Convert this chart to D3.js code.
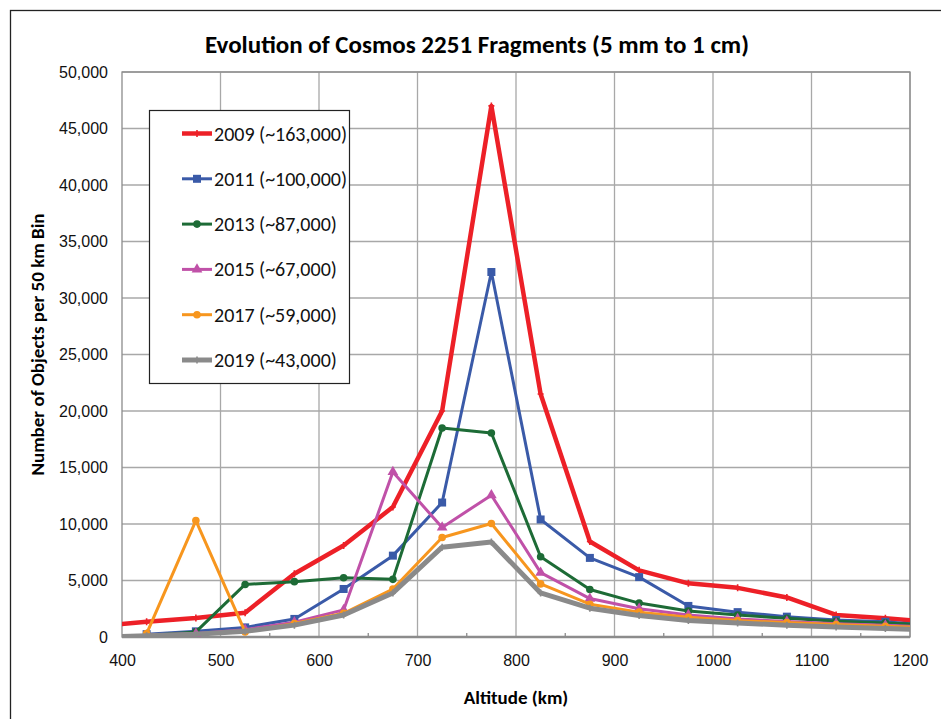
<!DOCTYPE html>
<html>
<head>
<meta charset="utf-8">
<script src="https://cdnjs.cloudflare.com/ajax/libs/d3/7.8.5/d3.min.js"></script>
<style>
  body { margin: 0; background: #fff; }
  svg { font-family: Carlito, "Liberation Sans Narrow", "Liberation Sans", sans-serif; }
</style>
</head>
<body>
<div id="chart"></div>
<script>
// bin centres (km); 375 and 1225 only show as the line running off the plot edge
const altitudes = [375,425,475,525,575,625,675,725,775,825,875,925,975,1025,1075,1125,1175,1225];
const y2009 = [950,1350,1680,2150,5600,8100,11500,20000,47000,21500,8450,5900,4750,4350,3500,1950,1650,1300];
const y2011 = [null,250,500,850,1600,4250,7200,11900,32300,10400,7000,5300,2750,2200,1800,1500,1350,1000];
const y2013 = [null,100,450,4650,4900,5250,5100,18500,18050,7100,4200,3000,2300,1950,1650,1400,1250,1050];
const y2015 = [null,150,300,650,1300,2400,14600,9700,12550,5700,3400,2500,1950,1600,1380,1180,1030,880];
const y2017 = [null,300,10300,450,1200,2100,4250,8800,10050,4700,2900,2200,1750,1450,1280,1100,950,800];
const y2019 = [0,100,250,500,1050,1950,3900,7950,8400,3900,2550,1900,1470,1230,1050,880,750,620];

const seriesNames = ["2009 (~163,000)","2011 (~100,000)","2013 (~87,000)","2015 (~67,000)","2017 (~59,000)","2019 (~43,000)"];
const seriesValues = [y2009,y2011,y2013,y2015,y2017,y2019];
const colors = ["#ed2027","#3a5aa8","#1d6b36","#c051a8","#f7961e","#8a8a8a"];
const widths = [4.5,3,3,3,3,5];
const markers = ["plus","square","circle","triangle","circle","plus"];

const xTicks = [400,500,600,700,800,900,1000,1100,1200];
const yTicks = d3.range(0, 50001, 5000);

const W = 941, H = 719;
const m = {left: 122, right: 910, top: 72, bottom: 637};

const svg = d3.select("#chart").append("svg")
  .attr("width", W).attr("height", H);

// outer chart frame (only top/left edges fall inside the window)
svg.append("rect")
  .attr("x", 10.5).attr("y", 10.5).attr("width", 1000).attr("height", 1000)
  .attr("fill", "none").attr("stroke", "#222").attr("stroke-width", 1.3);

const x = d3.scaleLinear().domain([400,1200]).range([m.left, m.right]);
const y = d3.scaleLinear().domain([0,50000]).range([m.bottom, m.top]);

// grid
svg.append("g").selectAll("line").data(yTicks.slice(1))
  .join("line")
  .attr("x1", m.left).attr("x2", m.right)
  .attr("y1", d => y(d)).attr("y2", d => y(d))
  .attr("stroke", "#a8a8a8").attr("stroke-width", 1.3);
svg.append("g").selectAll("line").data(xTicks.slice(1))
  .join("line")
  .attr("x1", d => x(d)).attr("x2", d => x(d))
  .attr("y1", m.top).attr("y2", m.bottom)
  .attr("stroke", "#a8a8a8").attr("stroke-width", 1.3);

// plot border
svg.append("rect")
  .attr("x", m.left).attr("y", m.top)
  .attr("width", m.right - m.left).attr("height", m.bottom - m.top)
  .attr("fill", "none").attr("stroke", "#8c8c8c").attr("stroke-width", 1.3);

// minor ticks on x axis
svg.append("g").selectAll("line").data(d3.range(450,1200,100))
  .join("line")
  .attr("x1", d => x(d)).attr("x2", d => x(d))
  .attr("y1", m.bottom).attr("y2", m.bottom - 4)
  .attr("stroke", "#8c8c8c").attr("stroke-width", 1.3);

// axes (labels only, lines drawn above)
const yAxis = svg.append("g")
  .attr("transform", `translate(${m.left},0)`)
  .call(d3.axisLeft(y).tickValues(yTicks).tickSize(0).tickPadding(14).tickFormat(d3.format(",")));
yAxis.select(".domain").remove();
yAxis.selectAll("text").attr("font-size", 16).attr("fill", "#111");

const xAxis = svg.append("g")
  .attr("transform", `translate(0,${m.bottom})`)
  .call(d3.axisBottom(x).tickValues(xTicks).tickSize(0).tickPadding(18).tickFormat(d3.format("d")));
xAxis.select(".domain").remove();
xAxis.selectAll("text").attr("font-size", 16).attr("fill", "#111");

// bottom axis line
svg.append("line")
  .attr("x1", m.left).attr("x2", m.right)
  .attr("y1", m.bottom).attr("y2", m.bottom)
  .attr("stroke", "#8c8c8c").attr("stroke-width", 2.5);

// titles
svg.append("text")
  .attr("x", 477).attr("y", 53)
  .attr("text-anchor", "middle")
  .attr("font-size", 25).attr("font-weight", "bold")
  .text("Evolution of Cosmos 2251 Fragments (5 mm to 1 cm)");
svg.append("text")
  .attr("x", 516).attr("y", 704)
  .attr("text-anchor", "middle")
  .attr("font-size", 19).attr("font-weight", "bold")
  .text("Altitude (km)");
svg.append("text")
  .attr("transform", `translate(44,${(m.top + m.bottom) / 2 - 10}) rotate(-90)`)
  .attr("text-anchor", "middle")
  .attr("font-size", 19).attr("font-weight", "bold")
  .text("Number of Objects per 50 km Bin");

// series
svg.append("clipPath").attr("id", "plotclip")
  .append("rect")
  .attr("x", m.left).attr("y", m.top - 10)
  .attr("width", m.right - m.left).attr("height", m.bottom - m.top + 10);

const line = d3.line()
  .defined(d => d[1] != null)
  .x(d => x(d[0])).y(d => y(d[1]));

function drawMarker(g, type, color, cx, cy) {
  if (type === "square") {
    g.append("rect").attr("x", cx - 4).attr("y", cy - 4)
      .attr("width", 8).attr("height", 8).attr("fill", color);
  } else if (type === "circle") {
    g.append("circle").attr("cx", cx).attr("cy", cy).attr("r", 3.8).attr("fill", color);
  } else if (type === "triangle") {
    g.append("path")
      .attr("d", d3.symbol().type(d3.symbolTriangle).size(50)())
      .attr("transform", `translate(${cx},${cy})`).attr("fill", color);
  } else {
    g.append("path")
      .attr("d", `M${cx},${cy - 3.5}V${cy + 3.5}M${cx - 3},${cy}H${cx + 3}`)
      .attr("stroke", color).attr("stroke-width", 1.6);
  }
}

const plot = svg.append("g").attr("clip-path", "url(#plotclip)");
seriesValues.forEach((vals, i) => {
  const pts = altitudes.map((a, j) => [a, vals[j]]);
  plot.append("path")
    .datum(pts)
    .attr("d", line)
    .attr("fill", "none")
    .attr("stroke", colors[i])
    .attr("stroke-width", widths[i])
    .attr("stroke-linejoin", "round");
  const mg = plot.append("g");
  pts.filter(p => p[1] != null && p[0] > 400 && p[0] < 1200)
    .forEach(p => drawMarker(mg, markers[i], colors[i], x(p[0]), y(p[1])));
});

// legend
const lg = svg.append("g");
lg.append("rect")
  .attr("x", 149.5).attr("y", 110.5).attr("width", 200).attr("height", 273)
  .attr("fill", "#fff").attr("stroke", "#222").attr("stroke-width", 1.2);
seriesNames.forEach((name, i) => {
  const cy = 133.5 + i * 45.3;
  lg.append("line")
    .attr("x1", 182).attr("x2", 212).attr("y1", cy).attr("y2", cy)
    .attr("stroke", colors[i]).attr("stroke-width", widths[i]);
  drawMarker(lg, markers[i], colors[i], 197, cy);
  lg.append("text")
    .attr("x", 214).attr("y", cy + 7)
    .attr("font-size", 20).attr("fill", "#111")
    .text(name);
});
</script>
</body>
</html>
